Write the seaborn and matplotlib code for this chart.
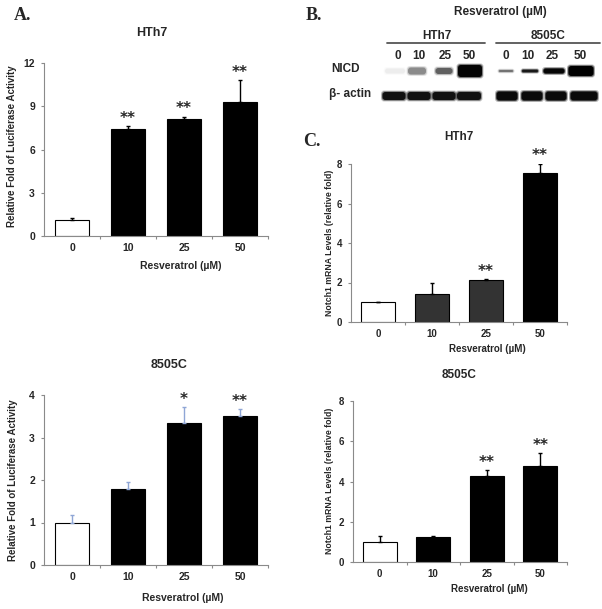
import numpy as np
import pandas as pd
import matplotlib
matplotlib.use('Agg')
import matplotlib.pyplot as plt
import seaborn as sns
from matplotlib.patches import FancyBboxPatch

# Data
doses = ['0', '10', '25', '50']

# A. luciferase activity
hth7_luc = [1.1, 7.45, 8.1, 9.3]
hth7_luc_err = [0.17, 0.17, 0.17, 1.5]
hth7_luc_stars = ['', '**', '**', '**']

c8505_luc = [1.0, 1.8, 3.33, 3.5]
c8505_luc_err = [0.17, 0.15, 0.38, 0.17]
c8505_luc_stars = ['', '', '*', '**']

# C. Notch1 mRNA
hth7_mrna = [1.0, 1.4, 2.13, 7.55]
hth7_mrna_err = [0.03, 0.6, 0.03, 0.47]
hth7_mrna_stars = ['', '', '**', '**']

c8505_mrna = [1.0, 1.24, 4.29, 4.77]
c8505_mrna_err = [0.28, 0.03, 0.28, 0.63]
c8505_mrna_stars = ['', '', '**', '**']

# B. western blot band intensities (0 = none, 1 = saturated)
nicd_hth7 = [0.04, 0.3, 0.45, 0.95]
nicd_8505c = [0.45, 0.8, 0.95, 1.0]
actin_hth7 = [0.85, 0.85, 0.85, 0.85]
actin_8505c = [0.9, 0.9, 0.9, 0.9]

sns.set_style('ticks')
plt.rcParams['font.family'] = ['Liberation Sans', 'DejaVu Sans']
plt.rcParams['font.weight'] = 'bold'

W, H = 602, 609
fig = plt.figure(figsize=(W / 100, H / 100), dpi=100)


def px_rect(left, right, top, bottom):
    return [left / W, (H - bottom) / H, (right - left) / W, (bottom - top) / H]


def bar_panel(rect, vals, errs, stars, fills, ylim, yticks, err_color, tick_fs, bar_w):
    ax = fig.add_axes(rect)
    df = pd.DataFrame({'dose': doses, 'value': vals})
    sns.barplot(data=df, x='dose', y='value', hue='dose', order=doses, hue_order=doses,
                palette=dict(zip(doses, fills)), width=bar_w, edgecolor='black',
                linewidth=0.8, errorbar=None, legend=False, ax=ax)
    ax.errorbar(np.arange(len(doses)), vals, yerr=[np.zeros(len(doses)), errs],
                fmt='none', ecolor=err_color, elinewidth=1, capsize=1.5, capthick=1)
    for i, (v, e, s) in enumerate(zip(vals, errs, stars)):
        if s:
            ax.annotate(s, (i, v + e), xytext=(0, 2.5), textcoords='offset points',
                        ha='center', va='baseline', fontsize=11,
                        family='DejaVu Sans', fontweight='bold')
    ax.set_xlim(-0.5, 3.5)
    ax.set_ylim(ylim)
    ax.set_yticks(yticks)
    ax.set_xticks(range(4))
    ax.set_xticks([0.5, 1.5, 2.5, 3.5], minor=True)
    ax.set_xlabel('')
    ax.set_ylabel('')
    for sp in ['top', 'right']:
        ax.spines[sp].set_visible(False)
    for sp in ['left', 'bottom']:
        ax.spines[sp].set_color('#8a8a8a')
        ax.spines[sp].set_linewidth(0.8)
    ax.tick_params(axis='x', which='major', length=0, pad=5, labelsize=tick_fs)
    ax.tick_params(axis='x', which='minor', length=2.5, color='#8a8a8a', width=0.8)
    ax.tick_params(axis='y', length=2.5, color='#8a8a8a', width=0.8, pad=4, labelsize=tick_fs)
    for lab in ax.get_xticklabels() + ax.get_yticklabels():
        lab.set_fontweight('bold')
    return ax


bar_panel(px_rect(44, 268, 63, 236), hth7_luc, hth7_luc_err, hth7_luc_stars,
          ['white', 'black', 'black', 'black'], (0, 12), [0, 3, 6, 9, 12], 'black', 7.5, 0.62)
bar_panel(px_rect(44, 268, 395, 565), c8505_luc, c8505_luc_err, c8505_luc_stars,
          ['white', 'black', 'black', 'black'], (0, 4), [0, 1, 2, 3, 4], '#8fa6d6', 7.5, 0.62)
bar_panel(px_rect(351, 567, 164, 322), hth7_mrna, hth7_mrna_err, hth7_mrna_stars,
          ['white', '#333333', '#333333', 'black'], (0, 8), [0, 2, 4, 6, 8], 'black', 7, 0.63)
bar_panel(px_rect(353, 567, 401, 562), c8505_mrna, c8505_mrna_err, c8505_mrna_stars,
          ['white', 'black', 'black', 'black'], (0, 8), [0, 2, 4, 6, 8], 'black', 7, 0.63)

# overlay in pixel coordinates for labels and the blot
ov = fig.add_axes([0, 0, 1, 1], facecolor='none')
ov.set_xlim(0, W)
ov.set_ylim(H, 0)
ov.axis('off')

serif = dict(family='Liberation Serif', fontweight='bold', fontsize=13, va='center', ha='left')
ov.text(14, 16, 'A.', **serif)
ov.text(306, 16, 'B.', **serif)
ov.text(303, 141, 'C.', **serif)

lum = 'Resveratrol (\u00b5M)'
yl_a = 'Relative Fold of Luciferase Activity'
yl_c = 'Notch1 mRNA Levels (relative fold)'

ov.text(152, 33, 'HTh7', ha='center', va='center', fontsize=9, fontweight='bold')
ov.text(12, 146, yl_a, rotation=90, ha='center', va='center', fontsize=7, fontweight='bold')
ov.text(181, 266, lum, ha='center', va='center', fontsize=7.5, fontweight='bold')

ov.text(169, 365, '8505C', ha='center', va='center', fontsize=9, fontweight='bold')
ov.text(13, 480, yl_a, rotation=90, ha='center', va='center', fontsize=7, fontweight='bold')
ov.text(183, 598, lum, ha='center', va='center', fontsize=7.5, fontweight='bold')

ov.text(459, 137, 'HTh7', ha='center', va='center', fontsize=8.5, fontweight='bold')
ov.text(329, 243, yl_c, rotation=90, ha='center', va='center', fontsize=6.3, fontweight='bold')
ov.text(487, 349, lum, ha='center', va='center', fontsize=7, fontweight='bold')

ov.text(459, 375, '8505C', ha='center', va='center', fontsize=8.5, fontweight='bold')
ov.text(329, 481, yl_c, rotation=90, ha='center', va='center', fontsize=6.3, fontweight='bold')
ov.text(489, 589, lum, ha='center', va='center', fontsize=7, fontweight='bold')

# blot header
ov.text(500, 12, lum, ha='center', va='center', fontsize=8.5, fontweight='bold')
ov.text(437, 36, 'HTh7', ha='center', va='center', fontsize=8.5, fontweight='bold')
ov.text(548, 36, '8505C', ha='center', va='center', fontsize=8.5, fontweight='bold')
ov.plot([387, 485], [43, 43], color='#555555', lw=1.3)
ov.plot([496, 600], [43, 43], color='#555555', lw=1.3)
for xl, d in zip([398, 419, 445, 469], doses):
    ov.text(xl, 56, d, ha='center', va='center', fontsize=8.5, fontweight='bold')
for xl, d in zip([506, 528, 552, 580], doses):
    ov.text(xl, 56, d, ha='center', va='center', fontsize=8.5, fontweight='bold')
ov.text(345, 69, 'NICD', ha='center', va='center', fontsize=8.5, fontweight='bold')
ov.text(350, 94, '\u03b2- actin', ha='center', va='center', fontsize=8.5, fontweight='bold')


def band(xc, yc, w, h, level):
    # soft halo plus core
    for grow, a in [(3, 0.25), (1.5, 0.5), (0, 1.0)]:
        ov.add_patch(FancyBboxPatch((xc - w / 2 - grow / 2, yc - h / 2 - grow / 2),
                                    w + grow, h + grow,
                                    boxstyle='round,pad=0,rounding_size=%.1f' % min(3, (h + grow) / 2),
                                    facecolor='black', edgecolor='none', alpha=level * a))


# NICD bands
for xc, w, h, lv in zip([395, 417, 444, 470], [20, 18, 17, 24], [5, 7, 6, 12], nicd_hth7):
    band(xc, 71, w, h, lv)
for xc, w, h, lv in zip([506, 530, 554, 581], [14, 16, 21, 25], [1.5, 2.5, 5, 10], nicd_8505c):
    band(xc, 71, w, h, lv)
# actin bands
for xc, w, lv in zip([394, 419, 444, 469], [23, 23, 23, 24], actin_hth7):
    band(xc, 96, w, 8, lv)
for xc, w, lv in zip([507, 532, 556, 584], [21, 21, 21, 27], actin_8505c):
    band(xc, 96, w, 9, lv)

fig.savefig('out.png', dpi=100)
